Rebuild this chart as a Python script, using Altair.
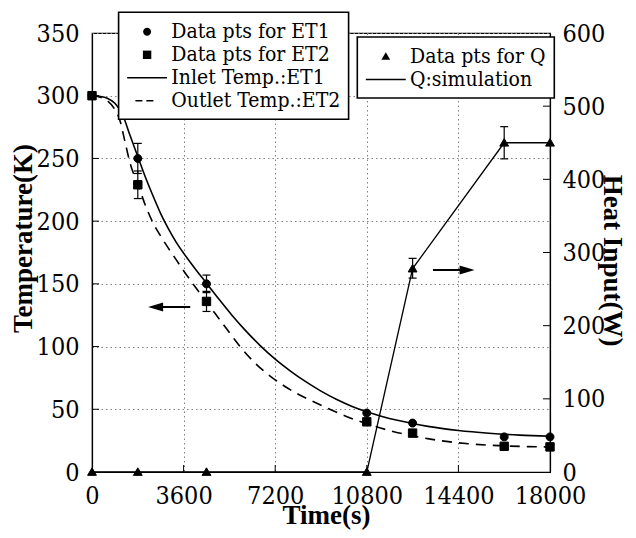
import altair as alt
import pandas as pd

# ---------------- data ----------------
x_ticks = [0, 3600, 7200, 10800, 14400, 18000]
temp_ticks = [0, 50, 100, 150, 200, 250, 300, 350]
heat_ticks = [0, 100, 200, 300, 400, 500, 600]

inlet_time = [0, 300, 600, 900, 1200, 1500, 1800, 2100, 2400, 2700, 3000, 3300, 3600, 4000,
              4500, 5000, 5500, 6000, 6600, 7200, 7800, 8400, 9000, 9600, 10200, 10800, 11400,
              12000, 12600, 13200, 13800, 14400, 15600, 16800, 18000]
inlet_temp = [300, 299.5, 298, 294, 285, 268, 251.5, 235, 220, 206, 194, 183.5, 174.5, 163.5,
              150.5, 137.5, 125, 113.5, 101, 90, 80.5, 72, 64.5, 58, 52.5, 48, 44.3,
              41.2, 38.6, 36.4, 34.6, 33.1, 30.9, 29.4, 28.5]

outlet_time = [0, 300, 600, 900, 1100, 1300, 1500, 1800, 2100, 2400, 2700, 3000, 3300, 3600,
               3900, 4500, 5000, 5500, 5800, 6400, 7000, 7600, 8200, 8600, 9300, 10100, 10800,
               11700, 12600, 13300, 14000, 14800, 16000, 17000, 18000]
outlet_temp = [300, 299, 296, 289, 280, 263, 246, 229.5, 212.5, 198.5, 188, 178.5, 169.5, 160.5,
               152, 135.5, 122, 108.5, 100.5, 87, 76.5, 68, 61, 57, 50.5, 43.5, 38.5,
               33, 28.8, 26.2, 24.2, 22.5, 21, 20.3, 20]

pts_time = [0, 1800, 4500, 10800, 12600, 16200, 18000]
et1_pts = [300, 250, 150, 47, 39, 28, 28]
et2_pts = [300, 229, 136, 40, 31, 20.5, 20]

et_err_time = [1800, 1800, 4500, 4500]
et_err_low = [238, 218, 143, 128]
et_err_high = [262, 240, 157, 144]

q_time = [0, 1800, 4500, 10800, 12600, 16200, 18000]
q_pts = [0, 0, 0, 0, 278, 450, 450]
qsim_time = [0, 10800, 12600, 16200, 18000]
qsim_vals = [0, 0, 278, 450, 450]
q_err_time = [12600, 16200]
q_err_low = [265, 428]
q_err_high = [292, 472]

et_labels = ['Data pts for ET1', 'Data pts for ET2', 'Inlet Temp.:ET1', 'Outlet Temp.:ET2']
q_labels = ['Data pts for Q', 'Q:simulation']

# annotation arrows, in data units: [tail, head]
temp_arrow_time = [3860, 2500]
temp_arrow_value = [131.5]
heat_arrow_time = [13400, 14740]
heat_arrow_value = [276]

# ---------------- styling ----------------
W, H = 458, 439
TITLE_FONT = 'Liberation Serif'
LABEL_FONT = 'DejaVu Serif Condensed'
SYM = 441
CIRCLE = "M0.38,0A0.38,0.38,0,1,1,-0.38,0A0.38,0.38,0,1,1,0.38,0Z"
SQUARE = "M-0.4,-0.4L0.4,-0.4L0.4,0.4L-0.4,0.4Z"
TRIANGLE = "M0,-0.4L0.42,0.32L-0.42,0.32Z"
LINE = "M-1.9,-0.07L1.9,-0.07L1.9,0.07L-1.9,0.07Z"
DASH = ("M-1.11,-0.07L-0.45,-0.07L-0.45,0.07L-1.11,0.07Z"
        "M-0.07,-0.07L0.6,-0.07L0.6,0.07L-0.07,0.07Z")
LEFT_HEAD = "M-1,0L1,-0.6L1,0.6Z"
RIGHT_HEAD = "M1,0L-1,-0.6L-1,0.6Z"

xscale = alt.Scale(domain=[0, 18000], nice=False, zero=False)
tscale = alt.Scale(domain=[0, 350], nice=False)
qscale = alt.Scale(domain=[0, 600], nice=False)

common_axis = dict(labelFont=LABEL_FONT, titleFont=TITLE_FONT, labelFontSize=25,
                   titleFontSize=27, titleFontWeight='bold', labelFlush=False,
                   labelOverlap=False, format='d', ticks=False)
x_axis = alt.Axis(values=x_ticks, title='Time(s)', grid=True, labelPadding=11,
                  titlePadding=-6, titleX=234, **common_axis)
t_axis = alt.Axis(values=temp_ticks, title='Temperature(K)', grid=True,
                  labelPadding=13, titlePadding=-1, titleY=205, **common_axis)
q_axis = alt.Axis(orient='right', values=heat_ticks, title='Heat Input(W)', grid=False,
                  labelPadding=12, titlePadding=-7, titleY=227, **common_axis)

XA = lambda f: alt.X(f, scale=xscale, axis=x_axis)
TA = lambda f: alt.Y(f, scale=tscale, axis=t_axis)
QA = lambda f: alt.Y(f, scale=qscale, axis=q_axis)

# ---------------- temperature layers ----------------
n = len(pts_time)
et_pts_df = pd.DataFrame({'t': pts_time + pts_time, 'v': et1_pts + et2_pts,
                          'series': [et_labels[0]] * n + [et_labels[1]] * n})
inlet_df = pd.DataFrame({'t': inlet_time, 'v': inlet_temp})
outlet_df = pd.DataFrame({'t': outlet_time, 'v': outlet_temp})
et_err_df = pd.DataFrame({'t': et_err_time, 'v': et_err_low, 'hi': et_err_high})
et_cap_df = pd.DataFrame({'t': et_err_time + et_err_time, 'v': et_err_low + et_err_high})
t_arrow_df = pd.DataFrame({'t': [temp_arrow_time[0]], 't2': [temp_arrow_time[1]], 'v': temp_arrow_value})
t_tick_df = pd.DataFrame({'v': temp_ticks[1:-1]})
x_tick_df = pd.DataFrame({'t': x_ticks[1:-1]})

legend_common = dict(title=None, orient='none', direction='vertical', zindex=1,
                     labelFont=LABEL_FONT, labelFontSize=21)
legend_et = alt.Legend(legendX=26.6, legendY=-20.7, **legend_common)
legend_q = alt.Legend(legendX=265.3, legendY=4, **legend_common)

et_points = alt.Chart(et_pts_df).mark_point(
    filled=True, color='black', stroke='black', strokeWidth=1, opacity=1, size=SYM
).encode(
    x=XA('t:Q'),
    y=TA('v:Q'),
    shape=alt.Shape('series:N', scale=alt.Scale(domain=et_labels,
                    range=[CIRCLE, SQUARE, LINE, DASH]), legend=legend_et),
)
inlet_line = alt.Chart(inlet_df).mark_line(color='black', strokeWidth=1.6, interpolate='monotone').encode(
    x=XA('t:Q'), y=TA('v:Q'))
outlet_line = alt.Chart(outlet_df).mark_line(color='black', strokeWidth=1.6, strokeDash=[10, 7],
                                             interpolate='monotone').encode(x=XA('t:Q'), y=TA('v:Q'))
et_err = alt.Chart(et_err_df).mark_rule(color='black', strokeWidth=1.2).encode(
    x=XA('t:Q'), y=TA('v:Q'), y2='hi:Q')
et_caps = alt.Chart(et_cap_df).mark_point(shape='stroke', size=64, color='black', strokeWidth=1.2,
                                          opacity=1).encode(x=XA('t:Q'), y=TA('v:Q'))
t_arrow = alt.Chart(t_arrow_df).mark_rule(color='black', strokeWidth=2).encode(
    x=XA('t:Q'), x2='t2:Q', y=TA('v:Q'))
t_head = alt.Chart(t_arrow_df).mark_point(shape=LEFT_HEAD, size=225, filled=True, color='black',
                                          opacity=1).encode(x=XA('t2:Q'), y=TA('v:Q'))
t_ticks = alt.Chart(t_tick_df).mark_rule(color='black', strokeWidth=1).encode(
    y=TA('v:Q'), x=alt.value(0), x2=alt.value(7))
x_tick_marks = alt.Chart(x_tick_df).mark_rule(color='black', strokeWidth=1).encode(
    x=XA('t:Q'), y=alt.value(H - 7), y2=alt.value(H))

temp_layer = alt.layer(et_points, inlet_line, outlet_line, et_err, et_caps, t_arrow, t_head,
                       t_ticks, x_tick_marks)

# ---------------- heat input layers ----------------
q_pts_df = pd.DataFrame({'t': q_time, 'v': q_pts, 'series': [q_labels[0]] * len(q_time)})
qsim_df = pd.DataFrame({'t': qsim_time, 'v': qsim_vals})
q_err_df = pd.DataFrame({'t': q_err_time, 'v': q_err_low, 'hi': q_err_high})
q_cap_df = pd.DataFrame({'t': q_err_time + q_err_time, 'v': q_err_low + q_err_high})
q_arrow_df = pd.DataFrame({'t': [heat_arrow_time[0]], 't2': [heat_arrow_time[1]], 'v': heat_arrow_value})
q_tick_df = pd.DataFrame({'v': heat_ticks[1:-1]})

q_points = alt.Chart(q_pts_df).mark_point(
    filled=True, color='black', stroke='black', strokeWidth=1, opacity=1, size=SYM
).encode(
    x=XA('t:Q'),
    y=QA('v:Q'),
    shape=alt.Shape('series:N', scale=alt.Scale(domain=q_labels, range=[TRIANGLE, LINE]),
                    legend=legend_q),
)
q_line = alt.Chart(qsim_df).mark_line(color='black', strokeWidth=1.3).encode(x=XA('t:Q'), y=QA('v:Q'))
q_err = alt.Chart(q_err_df).mark_rule(color='black', strokeWidth=1.2).encode(
    x=XA('t:Q'), y=QA('v:Q'), y2='hi:Q')
q_caps = alt.Chart(q_cap_df).mark_point(shape='stroke', size=64, color='black', strokeWidth=1.2,
                                        opacity=1).encode(x=XA('t:Q'), y=QA('v:Q'))
q_arrow = alt.Chart(q_arrow_df).mark_rule(color='black', strokeWidth=2).encode(
    x=XA('t:Q'), x2='t2:Q', y=QA('v:Q'))
q_head = alt.Chart(q_arrow_df).mark_point(shape=RIGHT_HEAD, size=225, filled=True, color='black',
                                          opacity=1).encode(x=XA('t2:Q'), y=QA('v:Q'))
q_ticks = alt.Chart(q_tick_df).mark_rule(color='black', strokeWidth=1).encode(
    y=QA('v:Q'), x=alt.value(W - 7), x2=alt.value(W))

heat_layer = alt.layer(q_points, q_line, q_err, q_caps, q_arrow, q_head, q_ticks)


def build(legend_stroke_width=True):
    legend_cfg = dict(
        labelFont=LABEL_FONT, labelFontSize=21, labelColor='black', labelLimit=400,
        padding=8, rowPadding=1, strokeColor='black', fillColor='white',
        symbolOffset=9, labelOffset=12.7, symbolStrokeWidth=1.5, symbolSize=SYM,
        symbolStrokeColor='black', symbolFillColor='black',
    )
    if legend_stroke_width:
        legend_cfg['strokeWidth'] = 1.6
    return alt.layer(temp_layer, heat_layer).resolve_scale(
        y='independent', shape='independent'
    ).properties(
        width=W, height=H,
        autosize=alt.AutoSizeParams(type='none'),
        padding={'left': 84, 'top': 25, 'right': 78, 'bottom': 58},
    ).configure_view(
        stroke='black', strokeWidth=1.2
    ).configure_axis(
        labelFont=LABEL_FONT, labelFontSize=25, labelColor='black',
        titleFont=TITLE_FONT, titleFontSize=27, titleFontWeight='bold', titleColor='black',
        domainColor='black', domainWidth=1.2,
        gridColor='#808080', gridDash=[1.5, 3], gridWidth=1,
    ).configure_legend(**legend_cfg)


try:
    chart = build(True)
    chart.to_dict()
except Exception:
    chart = build(False)

chart.save("out.html", embed_options={"renderer": "svg", "actions": False})
